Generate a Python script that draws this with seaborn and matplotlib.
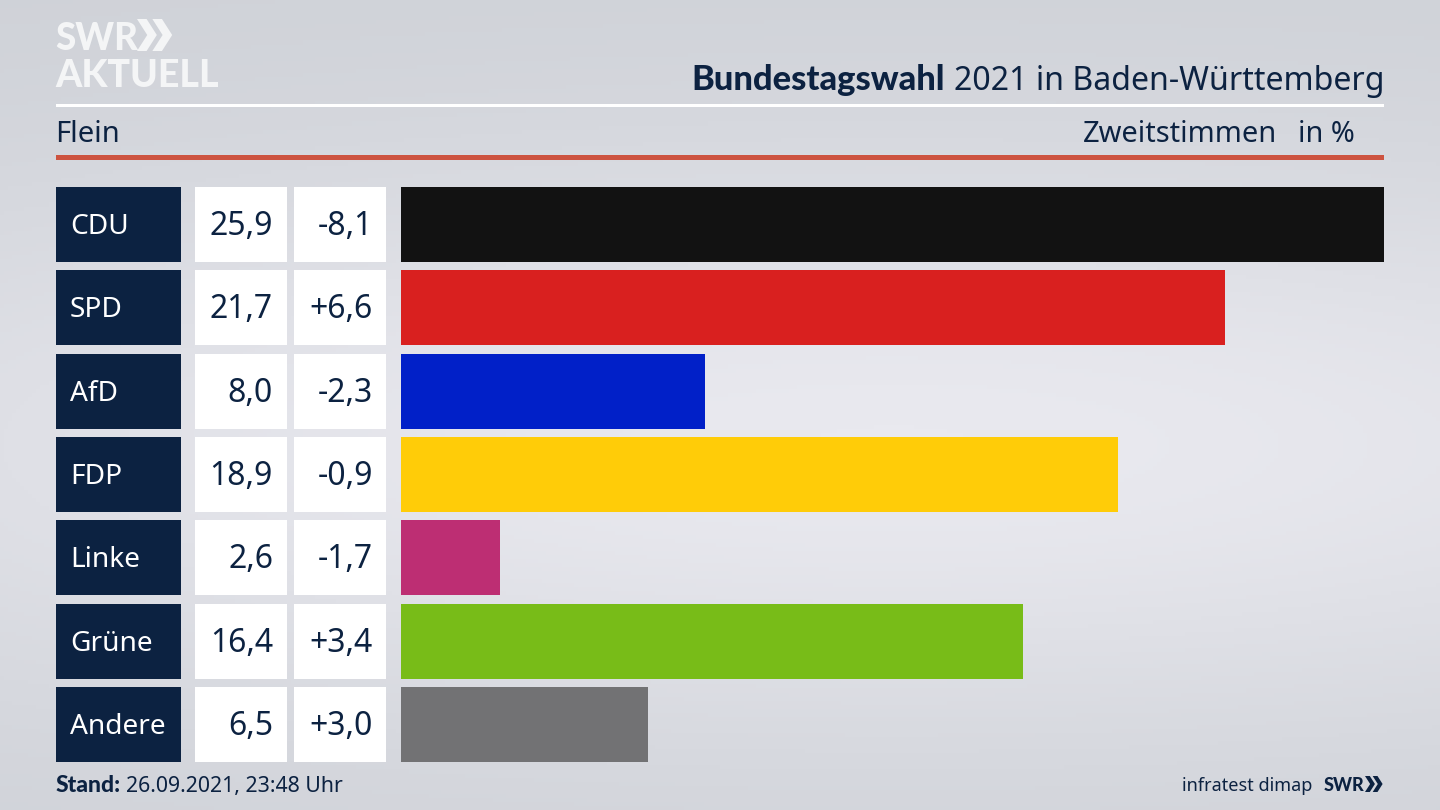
import matplotlib
matplotlib.use('Agg')
import matplotlib.pyplot as plt
import matplotlib.transforms as mtrans
from matplotlib.patches import Rectangle, Polygon
import numpy as np
import pandas as pd
import seaborn as sns

parties = ['CDU', 'SPD', 'AfD', 'FDP', 'Linke', 'Grüne', 'Andere']
shares = [25.9, 21.7, 8.0, 18.9, 2.6, 16.4, 6.5]
share_labels = ['25,9', '21,7', '8,0', '18,9', '2,6', '16,4', '6,5']
change_labels = ['-8,1', '+6,6', '-2,3', '-0,9', '-1,7', '+3,4', '+3,0']
colors = ['#121212', '#d9201f', '#0120c8', '#ffcc08', '#bd2e73', '#78bc18', '#727274']

NAVY = '#0c2241'
FONT = 'Noto Sans'
W, H = 1440, 810

sns.set_theme(style='white')
plt.rcParams['font.family'] = [FONT, 'DejaVu Sans']

fig = plt.figure(figsize=(14.4, 8.1), dpi=100)

# background, soft grey glow
bg = fig.add_axes([0, 0, 1, 1], zorder=0)
yy, xx = np.mgrid[0:1:200j, 0:1:356j]
glow = np.exp(-(((yy - 0.55) / 0.36) ** 2) - ((xx - 0.62) / 0.9) ** 2)
bg.imshow(glow, extent=[0, W, H, 0], aspect='auto', vmin=-0.05, vmax=1.0,
          cmap=matplotlib.colors.LinearSegmentedColormap.from_list('bg', ['#cdd0d6', '#e9e9ef']))
bg.set_xlim(0, W)
bg.set_ylim(H, 0)
bg.axis('off')

# bars
ax = fig.add_axes([401 / W, 1 - 762 / H, 983 / W, 575 / H], zorder=2)
ax.patch.set_alpha(0)
df = pd.DataFrame({'party': parties, 'share': shares})
sns.barplot(data=df, y='party', x='share', hue='party', order=parties, hue_order=parties,
            palette=colors, saturation=1, width=0.9, legend=False, linewidth=0, ax=ax)
ax.set_xlim(0, 25.9)
ax.set_ylim(6.45, -0.45)
ax.axis('off')

# table cells left of the bars share the y scale of the bars
cell_tr = mtrans.blended_transform_factory(bg.transData, ax.transData)
for i, party in enumerate(parties):
    bg.add_patch(Rectangle((56, i - 0.45), 125, 0.9, transform=cell_tr, color=NAVY, lw=0, zorder=3))
    bg.add_patch(Rectangle((195, i - 0.45), 92, 0.9, transform=cell_tr, color='white', lw=0, zorder=3))
    bg.add_patch(Rectangle((294, i - 0.45), 92, 0.9, transform=cell_tr, color='white', lw=0, zorder=3))
    bg.text(70, i + 0.115, party, transform=cell_tr, color='white', fontsize=20.2,
            ha='left', va='baseline', zorder=4)
    bg.text(273, i + 0.125, share_labels[i], transform=cell_tr, color=NAVY, fontsize=23,
            ha='right', va='baseline', zorder=4)
    bg.text(373, i + 0.125, change_labels[i], transform=cell_tr, color=NAVY, fontsize=23,
            ha='right', va='baseline', zorder=4)

# header rules
bg.add_patch(Rectangle((56, 104), 1328, 3, color='white', lw=0, zorder=3))
bg.add_patch(Rectangle((56, 155), 1328, 5, color='#cd5340', lw=0, zorder=3))

# title, bold part placed against the regular part
title = bg.text(1384, 90, '2021 in Baden-Württemberg', color=NAVY, fontsize=23.1,
                ha='right', va='baseline', zorder=4)
fig.canvas.draw()
box = title.get_window_extent().transformed(bg.transData.inverted())
bg.text(box.x0 - 9, 90, 'Bundestagswahl', color=NAVY, fontsize=24.8, fontweight='black',
        family='Lato', ha='right', va='baseline', zorder=4)

bg.text(55, 142, 'Flein', color=NAVY, fontsize=21, ha='left', va='baseline', zorder=4)
bg.text(1277, 142, 'Zweitstimmen', color=NAVY, fontsize=20.9, ha='right', va='baseline', zorder=4)
bg.text(1355, 142, 'in %', color=NAVY, fontsize=20.8, ha='right', va='baseline', zorder=4)

# footer
bg.text(56, 792, 'Stand:', color=NAVY, fontsize=16.5, fontweight='black', family='Lato',
        ha='left', va='baseline', zorder=4)
bg.text(126, 792, '26.09.2021, 23:48 Uhr', color=NAVY, fontsize=15.3,
        ha='left', va='baseline', zorder=4)
bg.text(1312, 791, 'infratest dimap', color=NAVY, fontsize=13, ha='right', va='baseline', zorder=4)


def chevrons(x, y, h, color):
    # two arrow heads of the SWR logo, x/y is the top left corner
    w = 0.52 * h
    step = 0.48 * h
    for k in range(2):
        x0 = x + k * step
        pts = [(x0, y), (x0 + 0.3 * h, y), (x0 + w + 0.1 * h, y + h / 2),
               (x0 + 0.3 * h, y + h), (x0, y + h), (x0 + w - 0.2 * h, y + h / 2)]
        bg.add_patch(Polygon(pts, color=color, lw=0, zorder=4))


# logo
bg.text(55, 50, 'SWR', color='#f4f5f6', fontsize=26.5, fontweight='black', family='Lato',
        ha='left', va='baseline', zorder=4)
chevrons(137, 19, 32, '#f4f5f6')
bg.text(55, 87, 'AKTUELL', color='#f4f5f6', fontsize=27, fontweight='black', family='Lato',
        ha='left', va='baseline', zorder=4)

# small logo in the footer
bg.text(1324, 791, 'SWR', color=NAVY, fontsize=13, fontweight='black', family='Lato',
        ha='left', va='baseline', zorder=4)
chevrons(1365, 776, 16, NAVY)

fig.savefig('out.png', dpi=100)
plt.close(fig)
